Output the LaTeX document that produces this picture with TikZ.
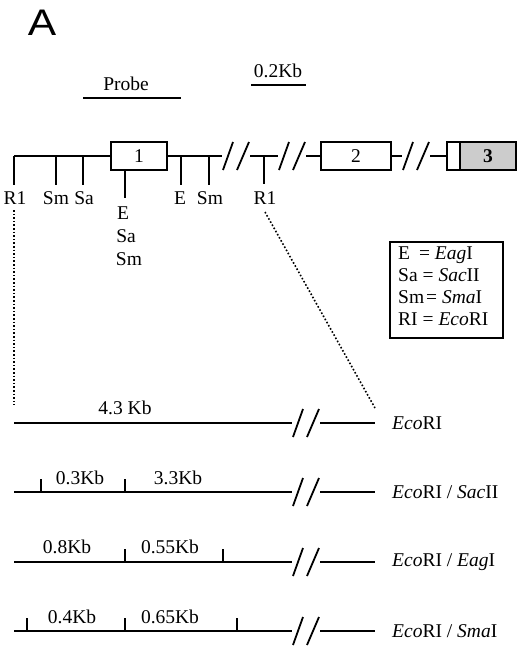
\documentclass[tikz,border=0pt]{standalone}
\usepackage{graphicx}
\usepackage{fontspec}
\setmainfont{Liberation Serif}
\newfontfamily\headfont{Liberation Sans}
\begin{document}
\begin{tikzpicture}[x=1pt,y=-1pt,
  every node/.style={inner sep=0pt,font=\fontsize{19.5}{21.7}\selectfont},
  dna/.style={line width=1.8pt},
  tck/.style={line width=1.8pt},
  exonbox/.style={draw,line width=1.8pt},
  dots/.style={line width=1.6pt,dotted},
  brk/.pic={\draw[line width=1.8pt] (1,14) -- (11,-14); \draw[line width=1.8pt] (15,14) -- (27,-14);}]
\useasboundingbox (0,0) rectangle (520,649);
% panel letter
\node[font=\headfont\fontsize{37}{40}\selectfont] (lblA) at (42,23) {\scalebox{1.15}[1]{A}};
% probe and scale
\coordinate (pr1) at (83,98); \coordinate (pr2) at (181,98);
\draw[dna] (pr1) -- (pr2);
\node (probe) at (126,84) {Probe};
\coordinate (sc1) at (251,85); \coordinate (sc2) at (306,85);
\draw[dna] (sc1) -- (sc2);
\node (scale) at (278,71) {0.2Kb};
% exons
\draw[exonbox] (111,142) rectangle (167,170);
\node (ex1) at (139,156) {1};
\draw[exonbox] (321,142) rectangle (391,170);
\node (ex2) at (356,156) {2};
\draw[exonbox,fill=gray!40] (460,142) rectangle (516,170);
\draw[exonbox] (447,142) rectangle (460,170);
\node[font=\bfseries\fontsize{19.5}{21.7}\selectfont] (ex3) at (488,156) {3};
% main line
\draw[dna] (14,156) -- (111,156);
\draw[dna] (167,156) -- (222,156);
\pic at (222,156) {brk};
\draw[dna] (250,156) -- (278,156);
\pic at (278,156) {brk};
\draw[dna] (306,156) -- (321,156);
\draw[dna] (391,156) -- (402,156);
\pic at (402,156) {brk};
\draw[dna] (430,156) -- (447,156);
% site ticks
\foreach \x in {14,56,83,181,209} \draw[tck] (\x,156) -- (\x,185);
\draw[tck] (125,170) -- (125,198);
\draw[tck] (264,156) -- (264,184);
\node (r1a) at (15,198) {R1};
\node (sm1) at (56,198) {Sm};
\node (sa1) at (84,198) {Sa};
\node (e2) at (180,198) {E};
\node (sm2) at (210,198) {Sm};
\node (r1b) at (265,198) {R1};
\node (e1) at (123,213) {E};
\node (sa2) at (126,236) {Sa};
\node (sm3) at (129,259) {Sm};
% legend
\draw[line width=1.5pt] (390,242) rectangle (503,338);
\node[anchor=north west,align=left] (legend) at (398,247) {%
E\hspace{9pt}= \textit{Eag}I\\
Sa\hspace{5pt}= \textit{Sac}II\\
Sm\hspace{2pt}= \textit{Sma}I\\
RI\hspace{5pt}= \textit{Eco}RI};
% dotted projections
\coordinate (d1a) at (14,210); \coordinate (d1b) at (14,405);
\coordinate (d2a) at (265,212); \coordinate (d2b) at (375,408);
\draw[dots] (d1a) -- (d1b);
\draw[dots] (d2a) -- (d2b);
% fragments
\foreach \y in {423,492,562,631} {
  \draw[dna] (14,\y) -- (292,\y);
  \pic at (292,\y) {brk};
  \draw[dna] (320,\y) -- (375,\y);
}
\node[anchor=west] (f1) at (392,423) {\textit{Eco}RI};
\node[anchor=west] (f2) at (392,492) {\textit{Eco}RI / \textit{Sac}II};
\node[anchor=west] (f3) at (392,562) {\textit{Eco}RI / \textit{Eag}I};
\node[anchor=west] (f4) at (392,631) {\textit{Eco}RI / \textit{Sma}I};
\node (k1) at (125,408) {4.3 Kb};
\foreach \x in {41,125} \draw[tck] (\x,492) -- (\x,479);
\node (k2) at (80,478) {0.3Kb};
\node (k3) at (178,478) {3.3Kb};
\foreach \x in {125,223} \draw[tck] (\x,562) -- (\x,549);
\node (k4) at (67,547) {0.8Kb};
\node (k5) at (170,547) {0.55Kb};
\foreach \x in {27,125,237} \draw[tck] (\x,631) -- (\x,618);
\node (k6) at (72,617) {0.4Kb};
\node (k7) at (170,617) {0.65Kb};
\end{tikzpicture}
\end{document}
